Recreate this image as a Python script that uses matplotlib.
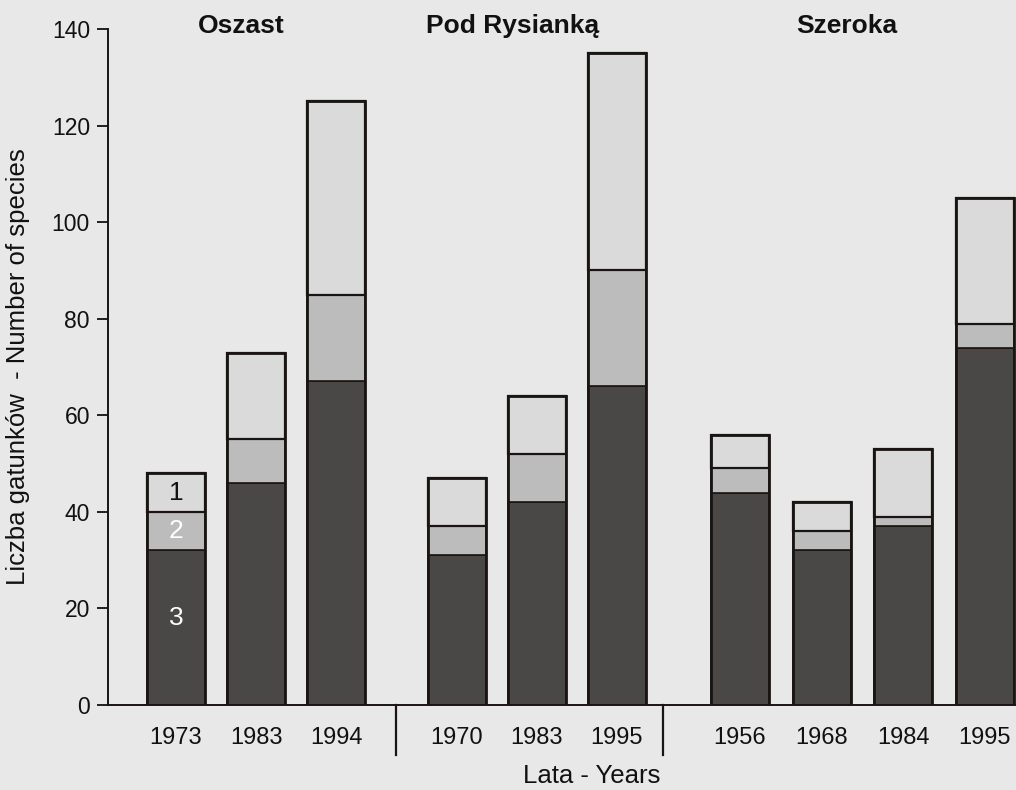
import matplotlib
matplotlib.use("Agg")
import matplotlib.pyplot as plt
from matplotlib.transforms import blended_transform_factory
import numpy as np

plt.rcParams['font.family'] = ['Liberation Sans', 'DejaVu Sans']

groups = ["Oszast", "Pod Rysianką", "Szeroka"]
years = [["1973", "1983", "1994"],
         ["1970", "1983", "1995"],
         ["1956", "1968", "1984", "1995"]]
# stacked segments (bottom: 3, middle: 2, top: 1)
seg3 = [32, 46, 67, 31, 42, 66, 44, 32, 37, 74]
seg2 = [8, 9, 18, 6, 10, 24, 5, 4, 2, 5]
seg1 = [8, 18, 40, 10, 12, 45, 7, 6, 14, 26]

bg = '#e8e8e8'
c1, c2, c3 = '#dadada', '#bcbcbc', '#4a4747'

fig = plt.figure(figsize=(10.16, 7.9), dpi=100, facecolor=bg)
ax = fig.add_axes([108/1016, 85/790, (1016-108)/1016, 676/790])
ax.set_facecolor(bg)

group_starts = [0.0, 3.51, 7.05]
spacing = [1.0, 1.0, 1.02]
xs = []
for gs, sp, yl in zip(group_starts, spacing, years):
    xs += [gs + sp * i for i in range(len(yl))]
xs = np.array(xs)
w = 0.725
s3 = np.array(seg3); s2 = np.array(seg2); s1 = np.array(seg1)
ax.bar(xs, s3, w, color=c3, edgecolor='#1a1414', linewidth=1.2, zorder=2)
ax.bar(xs, s2, w, bottom=s3, color=c2, edgecolor='#1a1414', linewidth=1.2, zorder=2)
ax.bar(xs, s1, w, bottom=s3 + s2, color=c1, edgecolor='#1a1414', linewidth=1.6, zorder=2)
# outer outline
ax.bar(xs, s1 + s2 + s3, w, color='none', edgecolor='#1a1414', linewidth=2.0, zorder=3)

ax.set_xlim(-0.85, 10.5)
ax.set_ylim(0, 140)
ax.set_yticks(range(0, 141, 20))
ax.set_xticks(xs)
ax.set_xticklabels([y for g in years for y in g])
ax.tick_params(axis='y', direction='out', length=8, width=1.3, labelsize=16.5, pad=5, colors='#111111')
ax.tick_params(axis='x', length=0, labelsize=17, pad=16, colors='#111111')
for s in ['top', 'right']:
    ax.spines[s].set_visible(False)
for s in ['left', 'bottom']:
    ax.spines[s].set_linewidth(1.4)
    ax.spines[s].set_color('#1a1414')

ax.set_ylabel("Liczba gatunków  - Number of species", fontsize=18.5, color='#111111')
ax.yaxis.set_label_coords((30-108)/(1016-108), 0.5)
ax.set_xlabel("Lata - Years", fontsize=18.5, color='#111111')
ax.xaxis.set_label_coords((592-108)/(1016-108), -(764-705)/676)

# group separators below the axis
trans = blended_transform_factory(ax.transData, ax.transAxes)
sep_frac = [0.5, 0.27]
for gi in range(1, 3):
    last = sum(len(g) for g in years[:gi]) - 1
    left_edge = xs[last] + w / 2
    right_edge = xs[last + 1] - w / 2
    xsep = left_edge + sep_frac[gi - 1] * (right_edge - left_edge)
    ax.plot([xsep, xsep], [0, -50/676], transform=trans, color='#1a1414', lw=1.6, clip_on=False)

# group titles
title_x = [(xs[0] + xs[2]) / 2 - 0.18, (xs[3] + xs[5]) / 2 - 0.3, (xs[6] + xs[9]) / 2 - 0.19]
for tx, g in zip(title_x, groups):
    ax.text(tx, 1.004, g, transform=trans, ha='center', va='center', fontsize=19,
            fontweight='bold', color='#111111')

# segment numbers in the first bar
ax.text(xs[0], s3[0] + s2[0] + s1[0] / 2, "1", ha='center', va='center', fontsize=19, color='#111111', zorder=4)
ax.text(xs[0], s3[0] + s2[0] / 2, "2", ha='center', va='center', fontsize=19, color='white', zorder=4)
ax.text(xs[0], 18, "3", ha='center', va='center', fontsize=19, color='white', zorder=4)

fig.savefig("out.png", dpi=100, facecolor=bg)
